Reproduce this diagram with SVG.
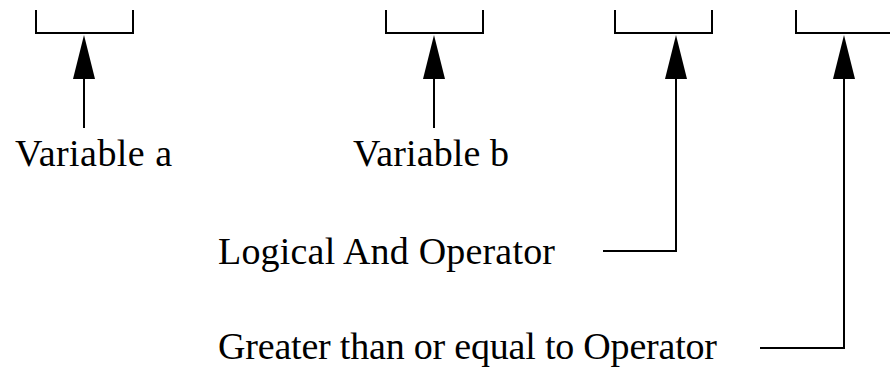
<svg xmlns="http://www.w3.org/2000/svg" width="890" height="369" viewBox="0 0 890 369">
  <style>
    .bracket { fill: none; stroke: #000; stroke-width: 2; }
    .conn { fill: none; stroke: #000; stroke-width: 2; }
    .head { fill: #000; }
    .label { font-family: 'Liberation Serif', 'Times New Roman', serif; font-size: 38px; fill: #000; }
  </style>

  <!-- brackets marking each part of the expression -->
  <g id="slot-a"><path class="bracket" d="M36,10 V33 H133 V10"/></g>
  <g id="slot-b"><path class="bracket" d="M386,10 V33 H483 V10"/></g>
  <g id="slot-and"><path class="bracket" d="M615,10 V33 H712 V10"/></g>
  <g id="slot-ge"><path class="bracket" d="M796,10 V33 H892"/></g>

  <!-- labels -->
  <g id="label-a"><text class="label" x="15" y="166" textLength="157">Variable a</text></g>
  <g id="label-b"><text class="label" x="353" y="166" textLength="156">Variable b</text></g>
  <g id="label-and"><text class="label" x="218" y="264" textLength="337">Logical And Operator</text></g>
  <g id="label-ge"><text class="label" x="218" y="359" textLength="499">Greater than or equal to Operator</text></g>

  <!-- pointer lines from labels to brackets -->
  <g id="connectors">
    <path class="conn" d="M84,128 V79"/>
    <path class="head" d="M84,35 L95,79 L73,79 Z"/>
    <path class="conn" d="M434,128 V79"/>
    <path class="head" d="M434,35 L445,79 L423,79 Z"/>
    <path class="conn" d="M603,251 H676 V79"/>
    <path class="head" d="M676,35 L687,79 L665,79 Z"/>
    <path class="conn" d="M760,348 H844 V79"/>
    <path class="head" d="M844,35 L855,79 L833,79 Z"/>
  </g>
</svg>
